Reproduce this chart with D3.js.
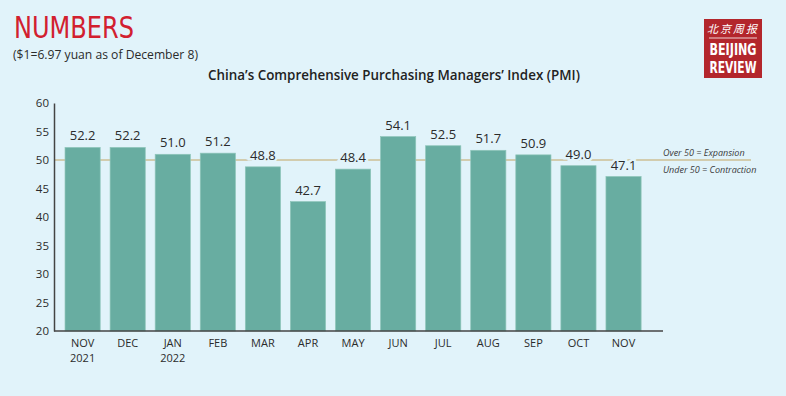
<!DOCTYPE html>
<html>
<head>
<meta charset="utf-8">
<script src="https://cdn.jsdelivr.net/npm/d3@7"></script>
<style>
  html, body { margin: 0; padding: 0; background: #e1f3fa; }
  svg { display: block; font-family: "Open Sans", sans-serif; }
</style>
</head>
<body>
<div id="chart"></div>
<script>
"use strict";
// months and PMI values
const months = ["NOV", "DEC", "JAN", "FEB", "MAR", "APR", "MAY", "JUN", "JUL", "AUG", "SEP", "OCT", "NOV"];
const years = ["2021", "", "2022", "", "", "", "", "", "", "", "", "", ""];
const pmi = [52.2, 52.2, 51.0, 51.2, 48.8, 42.7, 48.4, 54.1, 52.5, 51.7, 50.9, 49.0, 47.1];
const yTicks = [20, 25, 30, 35, 40, 45, 50, 55, 60];
const threshold = 50;

const W = 786, H = 396;
const bg = "#e1f3fa";
const svg = d3.select("#chart").append("svg").attr("width", W).attr("height", H);
svg.append("rect").attr("width", W).attr("height", H).attr("fill", bg);

// header
svg.append("text").attr("x", 14).attr("y", 38)
    .attr("font-family", "'DejaVu Sans Condensed', 'Liberation Sans Narrow', sans-serif")
    .attr("font-size", 30).attr("fill", "#d2202f")
    .attr("textLength", 120).attr("lengthAdjust", "spacingAndGlyphs")
    .text("NUMBERS");
svg.append("text").attr("x", 13).attr("y", 59)
    .attr("font-size", 13.5).attr("fill", "#2b2b2b")
    .attr("textLength", 185).attr("lengthAdjust", "spacingAndGlyphs")
    .text("($1=6.97 yuan as of December 8)");
svg.append("text").attr("x", 394).attr("y", 80).attr("text-anchor", "middle")
    .attr("font-size", 13.4).attr("font-weight", 600).attr("fill", "#222")
    .text("China\u2019s Comprehensive Purchasing Managers\u2019 Index (PMI)");

// logo
const logo = svg.append("g").attr("transform", "translate(704,19)");
logo.append("rect").attr("width", 58).attr("height", 59).attr("fill", "#b3262c");
logo.append("text").attr("x", 29).attr("y", 14).attr("text-anchor", "middle")
    .attr("font-family", "'Noto Sans CJK SC', sans-serif").attr("font-size", 11)
    .attr("font-style", "italic").attr("fill", "#fff").attr("letter-spacing", 2)
    .text("北京周报");
logo.append("line").attr("x1", 5).attr("x2", 53).attr("y1", 19).attr("y2", 19)
    .attr("stroke", "#fff").attr("stroke-width", 0.8);
logo.append("text").attr("x", 29).attr("y", 36).attr("text-anchor", "middle")
    .attr("font-family", "'Liberation Sans Narrow', 'DejaVu Sans Condensed', sans-serif")
    .attr("font-weight", "bold").attr("font-size", 16).attr("fill", "#fff")
    .attr("textLength", 47).attr("lengthAdjust", "spacingAndGlyphs").text("BEIJING");
logo.append("text").attr("x", 29).attr("y", 54).attr("text-anchor", "middle")
    .attr("font-family", "'Liberation Sans Narrow', 'DejaVu Sans Condensed', sans-serif")
    .attr("font-weight", "bold").attr("font-size", 16).attr("fill", "#fff")
    .attr("textLength", 47).attr("lengthAdjust", "spacingAndGlyphs").text("REVIEW");

// scales
const plotL = 54, plotR = 663, plotT = 103, plotB = 331;
const x = d3.scaleBand().domain(d3.range(months.length))
    .range([plotL, plotR])
    .paddingInner(0.22).paddingOuter(0.365).align(0.335);
const y = d3.scaleLinear().domain([20, 60]).range([plotB, plotT]);

// threshold line (drawn under bars)
svg.append("line")
    .attr("x1", plotL).attr("x2", 751)
    .attr("y1", y(threshold)).attr("y2", y(threshold))
    .attr("stroke", "#cdbf94").attr("stroke-width", 1.3);

// bars
svg.selectAll(".bar").data(pmi).join("rect")
    .attr("class", "bar")
    .attr("x", (d, i) => x(i))
    .attr("width", x.bandwidth())
    .attr("y", d => y(d))
    .attr("height", d => y(20) - y(d))
    .attr("fill", "#68ada1")
    .attr("stroke", "#8ec5b9").attr("stroke-width", 0.7);

// value labels with a halo so they cut the threshold line
svg.selectAll(".val").data(pmi).join("text")
    .attr("class", "val")
    .attr("x", (d, i) => x(i) + x.bandwidth() / 2)
    .attr("y", d => y(d) - 7)
    .attr("text-anchor", "middle")
    .attr("font-size", 13).attr("fill", "#2b2b2b")
    .attr("stroke", bg).attr("stroke-width", 5).attr("paint-order", "stroke")
    .text(d => d.toFixed(1));

// y axis
const yAxis = d3.axisLeft(y).tickValues(yTicks).tickSize(0).tickPadding(5);
const ya = svg.append("g").attr("transform", `translate(${plotL},0)`).call(yAxis);
ya.select(".domain").attr("stroke", "#444").attr("stroke-width", 1.5);
ya.selectAll("text").attr("font-size", 11.5).attr("fill", "#2b2b2b")
    .attr("font-family", "'Open Sans', sans-serif");

// x axis
const xAxis = d3.axisBottom(x).tickSize(0).tickPadding(0).tickFormat(i => months[i]);
const xa = svg.append("g").attr("transform", `translate(0,${plotB})`).call(xAxis);
xa.select(".domain").attr("d", `M${plotL},0H${plotR}`).attr("stroke", "#444").attr("stroke-width", 1.5);
xa.selectAll(".tick text").attr("font-size", 11).attr("fill", "#2b2b2b")
    .attr("font-family", "'Open Sans', sans-serif")
    .attr("dy", null).attr("y", 16)
    .each(function (i) {
        if (years[i]) {
            d3.select(this.parentNode).append("text")
                .attr("y", 31).attr("text-anchor", "middle")
                .attr("font-size", 11).attr("fill", "#2b2b2b")
                .attr("font-family", "'Open Sans', sans-serif")
                .text(years[i]);
        }
    });

// legend notes
svg.append("text").attr("x", 663).attr("y", 156)
    .attr("font-size", 9).attr("font-style", "italic").attr("fill", "#3a3a3a")
    .text("Over 50 = Expansion");
svg.append("text").attr("x", 663).attr("y", 173)
    .attr("font-size", 9).attr("font-style", "italic").attr("fill", "#3a3a3a")
    .text("Under 50 = Contraction");
</script>
</body>
</html>
